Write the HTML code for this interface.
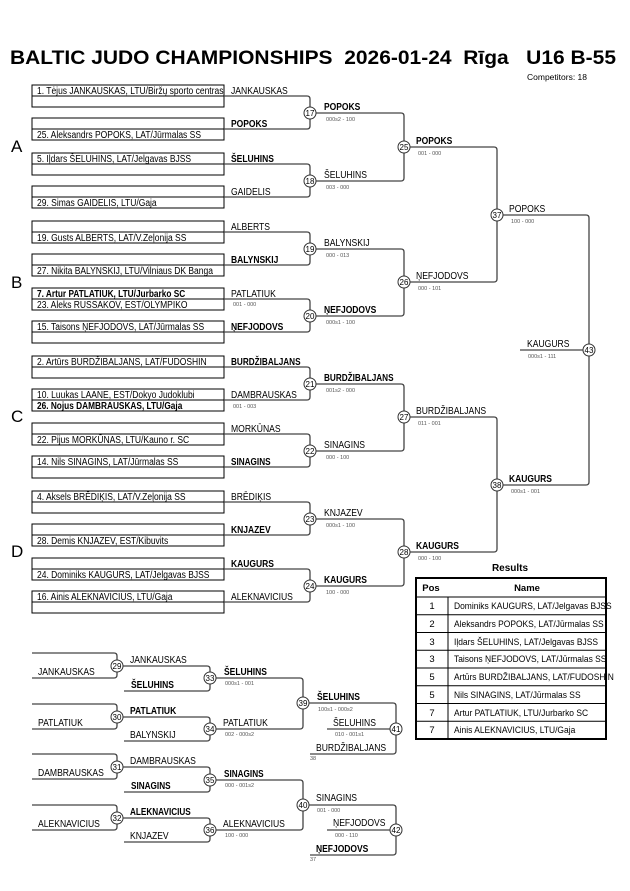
<!DOCTYPE html>
<html><head><meta charset="utf-8"><style>
html,body{margin:0;padding:0;background:#fff;}
svg{display:block;font-family:"Liberation Sans",Arial,sans-serif;}
.e{font-size:10px;fill:#000;}
.l{font-size:10px;fill:#000;}
.b{font-weight:bold;}
.s{font-size:5.5px;fill:#555;}
.c{font-size:8px;fill:#000;text-anchor:middle;}
.ln{fill:none;stroke:#444;stroke-width:1.3;}
.bx{fill:none;stroke:#000;stroke-width:1;}
.ci{fill:#fff;stroke:#333;stroke-width:1;}
</style></head><body>
<svg width="630" height="891" viewBox="0 0 630 891" xmlns="http://www.w3.org/2000/svg">
<text x="10" y="64" font-size="19.5" font-weight="bold" textLength="606" lengthAdjust="spacingAndGlyphs" xml:space="preserve">BALTIC JUDO CHAMPIONSHIPS  2026-01-24  Rīga   U16 B-55</text>
<text x="527" y="80" font-size="8.5">Competitors: 18</text>
<g font-size="17"><text x="11" y="152">A</text><text x="11" y="288">B</text><text x="11" y="422">C</text><text x="11" y="557">D</text></g>

<g class="bx">
<rect x="32" y="85" width="192" height="22"/><line x1="32" y1="96" x2="224" y2="96"/><rect x="32" y="118" width="192" height="22"/><line x1="32" y1="129" x2="224" y2="129"/>
<rect x="32" y="153" width="192" height="22"/><line x1="32" y1="164" x2="224" y2="164"/><rect x="32" y="186" width="192" height="22"/><line x1="32" y1="197" x2="224" y2="197"/>
<rect x="32" y="221" width="192" height="22"/><line x1="32" y1="232" x2="224" y2="232"/><rect x="32" y="254" width="192" height="22"/><line x1="32" y1="265" x2="224" y2="265"/>
<rect x="32" y="288" width="192" height="22"/><line x1="32" y1="299" x2="224" y2="299"/><rect x="32" y="321" width="192" height="22"/><line x1="32" y1="332" x2="224" y2="332"/>
<rect x="32" y="356" width="192" height="22"/><line x1="32" y1="367" x2="224" y2="367"/><rect x="32" y="389" width="192" height="22"/><line x1="32" y1="400" x2="224" y2="400"/>
<rect x="32" y="423" width="192" height="22"/><line x1="32" y1="434" x2="224" y2="434"/><rect x="32" y="456" width="192" height="22"/><line x1="32" y1="467" x2="224" y2="467"/>
<rect x="32" y="491" width="192" height="22"/><line x1="32" y1="502" x2="224" y2="502"/><rect x="32" y="524" width="192" height="22"/><line x1="32" y1="535" x2="224" y2="535"/>
<rect x="32" y="558" width="192" height="22"/><line x1="32" y1="569" x2="224" y2="569"/><rect x="32" y="591" width="192" height="22"/><line x1="32" y1="602" x2="224" y2="602"/>
</g>

<g class="ln">
<path d="M224,96H307Q310,96 310,99V107M224,129H307Q310,129 310,126V119"/>
<path d="M224,164H307Q310,164 310,167V175M224,197H307Q310,197 310,194V187"/>
<path d="M224,232H307Q310,232 310,235V243M224,265H307Q310,265 310,262V255"/>
<path d="M224,299H307Q310,299 310,302V310M224,332H307Q310,332 310,329V322"/>
<path d="M224,367H307Q310,367 310,370V378M224,400H307Q310,400 310,397V390"/>
<path d="M224,434H307Q310,434 310,437V445M224,467H307Q310,467 310,464V457"/>
<path d="M224,502H307Q310,502 310,505V513M224,535H307Q310,535 310,532V525"/>
<path d="M224,569H307Q310,569 310,572V580M224,602H307Q310,602 310,599V592"/>
<path d="M316,113H401Q404,113 404,116V141M316,181H401Q404,181 404,178V153"/>
<path d="M316,249H401Q404,249 404,252V276M316,316H401Q404,316 404,313V288"/>
<path d="M316,384H401Q404,384 404,387V411M316,451H401Q404,451 404,448V423"/>
<path d="M316,519H401Q404,519 404,522V546M316,586H401Q404,586 404,583V558"/>
<path d="M410,147H494Q497,147 497,150V209M410,282H494Q497,282 497,279V221"/>
<path d="M410,417H494Q497,417 497,420V479M410,552H494Q497,552 497,549V491"/>
<path d="M503,215H586Q589,215 589,218V344M503,485H586Q589,485 589,482V356M520,350H583"/>
<path d="M32,653H114Q117,653 117,656V660M32,678H114Q117,678 117,675V672"/>
<path d="M123,666H207Q210,666 210,669V672M124,691H207Q210,691 210,688V684"/>
<path d="M216,678H300Q303,678 303,681V697M216,729H300Q303,729 303,726V709"/>
<path d="M32,704H114Q117,704 117,707V711M32,729H114Q117,729 117,726V723"/>
<path d="M123,717H207Q210,717 210,720V723M124,741H207Q210,741 210,738V735"/>
<path d="M309,703H393Q396,703 396,706V723M327,729H390M310,754H393Q396,754 396,751V735"/>
<path d="M32,754H114Q117,754 117,757V761M32,779H114Q117,779 117,776V773"/>
<path d="M123,767H207Q210,767 210,770V774M124,792H207Q210,792 210,789V786"/>
<path d="M216,780H300Q303,780 303,783V799M216,830H300Q303,830 303,827V811"/>
<path d="M32,805H114Q117,805 117,808V812M32,830H114Q117,830 117,827V824"/>
<path d="M123,818H207Q210,818 210,821V824M124,842H207Q210,842 210,839V836"/>
<path d="M309,805H393Q396,805 396,808V824M327,830H390M310,855H393Q396,855 396,852V836"/>
</g>

<g class="ci">
<circle cx="310" cy="113" r="6"/><circle cx="310" cy="181" r="6"/><circle cx="310" cy="249" r="6"/><circle cx="310" cy="316" r="6"/>
<circle cx="310" cy="384" r="6"/><circle cx="310" cy="451" r="6"/><circle cx="310" cy="519" r="6"/><circle cx="310" cy="586" r="6"/>
<circle cx="404" cy="147" r="6"/><circle cx="404" cy="282" r="6"/><circle cx="404" cy="417" r="6"/><circle cx="404" cy="552" r="6"/>
<circle cx="497" cy="215" r="6"/><circle cx="497" cy="485" r="6"/><circle cx="589" cy="350" r="6"/>
<circle cx="117" cy="666" r="6"/><circle cx="117" cy="717" r="6"/><circle cx="117" cy="767" r="6"/><circle cx="117" cy="818" r="6"/>
<circle cx="210" cy="678" r="6"/><circle cx="210" cy="729" r="6"/><circle cx="210" cy="780" r="6"/><circle cx="210" cy="830" r="6"/>
<circle cx="303" cy="703" r="6"/><circle cx="303" cy="805" r="6"/><circle cx="396" cy="729" r="6"/><circle cx="396" cy="830" r="6"/>
</g>
<g class="c">
<text x="310" y="116">17</text><text x="310" y="184">18</text><text x="310" y="252">19</text><text x="310" y="319">20</text>
<text x="310" y="387">21</text><text x="310" y="454">22</text><text x="310" y="522">23</text><text x="310" y="589">24</text>
<text x="404" y="150">25</text><text x="404" y="285">26</text><text x="404" y="420">27</text><text x="404" y="555">28</text>
<text x="497" y="218">37</text><text x="497" y="488">38</text><text x="589" y="353">43</text>
<text x="117" y="669">29</text><text x="117" y="720">30</text><text x="117" y="770">31</text><text x="117" y="821">32</text>
<text x="210" y="681">33</text><text x="210" y="732">34</text><text x="210" y="783">35</text><text x="210" y="833">36</text>
<text x="303" y="706">39</text><text x="303" y="808">40</text><text x="396" y="732">41</text><text x="396" y="833">42</text>
</g>

<g class="e">
<text transform="translate(37,94) scale(0.85,1)">1. Tėjus JANKAUSKAS, LTU/Biržų sporto centras</text>
<text transform="translate(37,138) scale(0.85,1)">25. Aleksandrs POPOKS, LAT/Jūrmalas SS</text>
<text transform="translate(37,162) scale(0.85,1)">5. Iļdars ŠELUHINS, LAT/Jelgavas BJSS</text>
<text transform="translate(37,206) scale(0.85,1)">29. Simas GAIDELIS, LTU/Gaja</text>
<text transform="translate(37,241) scale(0.85,1)">19. Gusts ALBERTS, LAT/V.Zeļonija SS</text>
<text transform="translate(37,274) scale(0.85,1)">27. Nikita BALYNSKIJ, LTU/Vilniaus DK Banga</text>
<text class="b" transform="translate(37,297) scale(0.83,1)">7. Artur PATLATIUK, LTU/Jurbarko SC</text>
<text transform="translate(37,308) scale(0.85,1)">23. Aleks RUSSAKOV, EST/OLYMPIKO</text>
<text transform="translate(37,330) scale(0.85,1)">15. Taisons ŅEFJODOVS, LAT/Jūrmalas SS</text>
<text transform="translate(37,365) scale(0.85,1)">2. Artūrs BURDŽIBALJANS, LAT/FUDOSHIN</text>
<text transform="translate(37,398) scale(0.85,1)">10. Luukas LAANE, EST/Dokyo Judoklubi</text>
<text class="b" transform="translate(37,409) scale(0.83,1)">26. Nojus DAMBRAUSKAS, LTU/Gaja</text>
<text transform="translate(37,443) scale(0.85,1)">22. Pijus MORKŪNAS, LTU/Kauno r. SC</text>
<text transform="translate(37,465) scale(0.85,1)">14. Nils SINAGINS, LAT/Jūrmalas SS</text>
<text transform="translate(37,500) scale(0.85,1)">4. Aksels BRĒDIĶIS, LAT/V.Zeļonija SS</text>
<text transform="translate(37,544) scale(0.85,1)">28. Demis KNJAZEV, EST/Kibuvits</text>
<text transform="translate(37,578) scale(0.85,1)">24. Dominiks KAUGURS, LAT/Jelgavas BJSS</text>
<text transform="translate(37,600) scale(0.85,1)">16. Ainis ALEKNAVICIUS, LTU/Gaja</text>
</g>

<g class="l">
<text transform="translate(231,94) scale(0.86,1)">JANKAUSKAS</text>
<text class="b" transform="translate(231,127) scale(0.85,1)">POPOKS</text>
<text class="b" transform="translate(231,162) scale(0.85,1)">ŠELUHINS</text>
<text transform="translate(231,195) scale(0.86,1)">GAIDELIS</text>
<text transform="translate(231,230) scale(0.86,1)">ALBERTS</text>
<text class="b" transform="translate(231,263) scale(0.85,1)">BALYNSKIJ</text>
<text transform="translate(231,297) scale(0.86,1)">PATLATIUK</text>
<text class="b" transform="translate(231,330) scale(0.85,1)">ŅEFJODOVS</text>
<text class="b" transform="translate(231,365) scale(0.82,1)">BURDŽIBALJANS</text>
<text transform="translate(231,398) scale(0.86,1)">DAMBRAUSKAS</text>
<text transform="translate(231,432) scale(0.86,1)">MORKŪNAS</text>
<text class="b" transform="translate(231,465) scale(0.82,1)">SINAGINS</text>
<text transform="translate(231,500) scale(0.86,1)">BRĒDIĶIS</text>
<text class="b" transform="translate(231,533) scale(0.85,1)">KNJAZEV</text>
<text class="b" transform="translate(231,567) scale(0.85,1)">KAUGURS</text>
<text transform="translate(231,600) scale(0.86,1)">ALEKNAVICIUS</text>

<text class="b" transform="translate(324,110) scale(0.85,1)">POPOKS</text>
<text transform="translate(324,178) scale(0.86,1)">ŠELUHINS</text>
<text transform="translate(324,246) scale(0.86,1)">BALYNSKIJ</text>
<text class="b" transform="translate(324,313) scale(0.85,1)">ŅEFJODOVS</text>
<text class="b" transform="translate(324,381) scale(0.82,1)">BURDŽIBALJANS</text>
<text transform="translate(324,448) scale(0.86,1)">SINAGINS</text>
<text transform="translate(324,516) scale(0.86,1)">KNJAZEV</text>
<text class="b" transform="translate(324,583) scale(0.85,1)">KAUGURS</text>
<text class="b" transform="translate(416,144) scale(0.85,1)">POPOKS</text>
<text transform="translate(416,279) scale(0.86,1)">ŅEFJODOVS</text>
<text transform="translate(416,414) scale(0.86,1)">BURDŽIBALJANS</text>
<text class="b" transform="translate(416,549) scale(0.85,1)">KAUGURS</text>
<text transform="translate(509,212) scale(0.86,1)">POPOKS</text>
<text class="b" transform="translate(509,482) scale(0.85,1)">KAUGURS</text>
<text transform="translate(527,347) scale(0.86,1)">KAUGURS</text>

<text transform="translate(38,675) scale(0.86,1)">JANKAUSKAS</text>
<text transform="translate(130,663) scale(0.86,1)">JANKAUSKAS</text>
<text class="b" transform="translate(131,688) scale(0.85,1)">ŠELUHINS</text>
<text class="b" transform="translate(224,675) scale(0.85,1)">ŠELUHINS</text>
<text transform="translate(38,726) scale(0.86,1)">PATLATIUK</text>
<text class="b" transform="translate(130,714) scale(0.85,1)">PATLATIUK</text>
<text transform="translate(130,738) scale(0.86,1)">BALYNSKIJ</text>
<text transform="translate(223,726) scale(0.86,1)">PATLATIUK</text>
<text class="b" transform="translate(317,700) scale(0.85,1)">ŠELUHINS</text>
<text transform="translate(333,726) scale(0.86,1)">ŠELUHINS</text>
<text transform="translate(316,751) scale(0.86,1)">BURDŽIBALJANS</text>
<text transform="translate(38,776) scale(0.86,1)">DAMBRAUSKAS</text>
<text transform="translate(130,764) scale(0.86,1)">DAMBRAUSKAS</text>
<text class="b" transform="translate(131,789) scale(0.82,1)">SINAGINS</text>
<text class="b" transform="translate(224,777) scale(0.82,1)">SINAGINS</text>
<text transform="translate(38,827) scale(0.86,1)">ALEKNAVICIUS</text>
<text class="b" transform="translate(130,815) scale(0.82,1)">ALEKNAVICIUS</text>
<text transform="translate(130,839) scale(0.86,1)">KNJAZEV</text>
<text transform="translate(223,827) scale(0.86,1)">ALEKNAVICIUS</text>
<text transform="translate(316,801) scale(0.86,1)">SINAGINS</text>
<text transform="translate(333,826) scale(0.86,1)">ŅEFJODOVS</text>
<text class="b" transform="translate(316,852) scale(0.85,1)">ŅEFJODOVS</text>
</g>

<g class="s">
<text x="233" y="306">001 - 000</text><text x="233" y="408">001 - 003</text>
<text x="326" y="121">000s2 - 100</text><text x="326" y="189">003 - 000</text><text x="326" y="257">000 - 013</text><text x="326" y="324">000s1 - 100</text>
<text x="326" y="392">001s2 - 000</text><text x="326" y="459">000 - 100</text><text x="326" y="527">000s1 - 100</text><text x="326" y="594">100 - 000</text>
<text x="418" y="155">001 - 000</text><text x="418" y="290">000 - 101</text><text x="418" y="425">011 - 001</text><text x="418" y="560">000 - 100</text>
<text x="511" y="223">100 - 000</text><text x="511" y="493">000s1 - 001</text><text x="528" y="358">000s1 - 111</text>
<text x="225" y="685">000s1 - 001</text><text x="225" y="736">002 - 000s2</text><text x="318" y="711">100s1 - 000s2</text><text x="335" y="736">010 - 001s1</text>
<text x="310" y="760">38</text>
<text x="225" y="787">000 - 001s2</text><text x="225" y="837">100 - 000</text><text x="317" y="812">001 - 000</text><text x="335" y="837">000 - 110</text>
<text x="310" y="861">37</text>
</g>

<text x="510" y="571" font-size="10" font-weight="bold" text-anchor="middle">Results</text>
<rect x="416" y="578" width="190" height="161" fill="none" stroke="#000" stroke-width="2"/>
<g stroke="#000" stroke-width="1">
<line x1="416" y1="597" x2="606" y2="597"/><line x1="448" y1="597" x2="448" y2="739"/>
<line x1="416" y1="614.75" x2="606" y2="614.75"/><line x1="416" y1="632.5" x2="606" y2="632.5"/><line x1="416" y1="650.25" x2="606" y2="650.25"/>
<line x1="416" y1="668" x2="606" y2="668"/><line x1="416" y1="685.75" x2="606" y2="685.75"/><line x1="416" y1="703.5" x2="606" y2="703.5"/><line x1="416" y1="721.25" x2="606" y2="721.25"/>
</g>
<g font-size="9.5">
<text x="431" y="591" font-weight="bold" text-anchor="middle">Pos</text>
<text x="527" y="591" font-weight="bold" text-anchor="middle">Name</text>
<g text-anchor="middle"><text x="432" y="609">1</text><text x="432" y="627">2</text><text x="432" y="645">3</text><text x="432" y="662">3</text><text x="432" y="680">5</text><text x="432" y="698">5</text><text x="432" y="716">7</text><text x="432" y="733">7</text></g>
<text transform="translate(454,609) scale(0.89,1)">Dominiks KAUGURS, LAT/Jelgavas BJSS</text>
<text transform="translate(454,627) scale(0.89,1)">Aleksandrs POPOKS, LAT/Jūrmalas SS</text>
<text transform="translate(454,645) scale(0.89,1)">Iļdars ŠELUHINS, LAT/Jelgavas BJSS</text>
<text transform="translate(454,662) scale(0.89,1)">Taisons ŅEFJODOVS, LAT/Jūrmalas SS</text>
<text transform="translate(454,680) scale(0.89,1)">Artūrs BURDŽIBALJANS, LAT/FUDOSHIN</text>
<text transform="translate(454,698) scale(0.89,1)">Nils SINAGINS, LAT/Jūrmalas SS</text>
<text transform="translate(454,716) scale(0.89,1)">Artur PATLATIUK, LTU/Jurbarko SC</text>
<text transform="translate(454,733) scale(0.89,1)">Ainis ALEKNAVICIUS, LTU/Gaja</text>
</g>
</svg>
</body></html>
